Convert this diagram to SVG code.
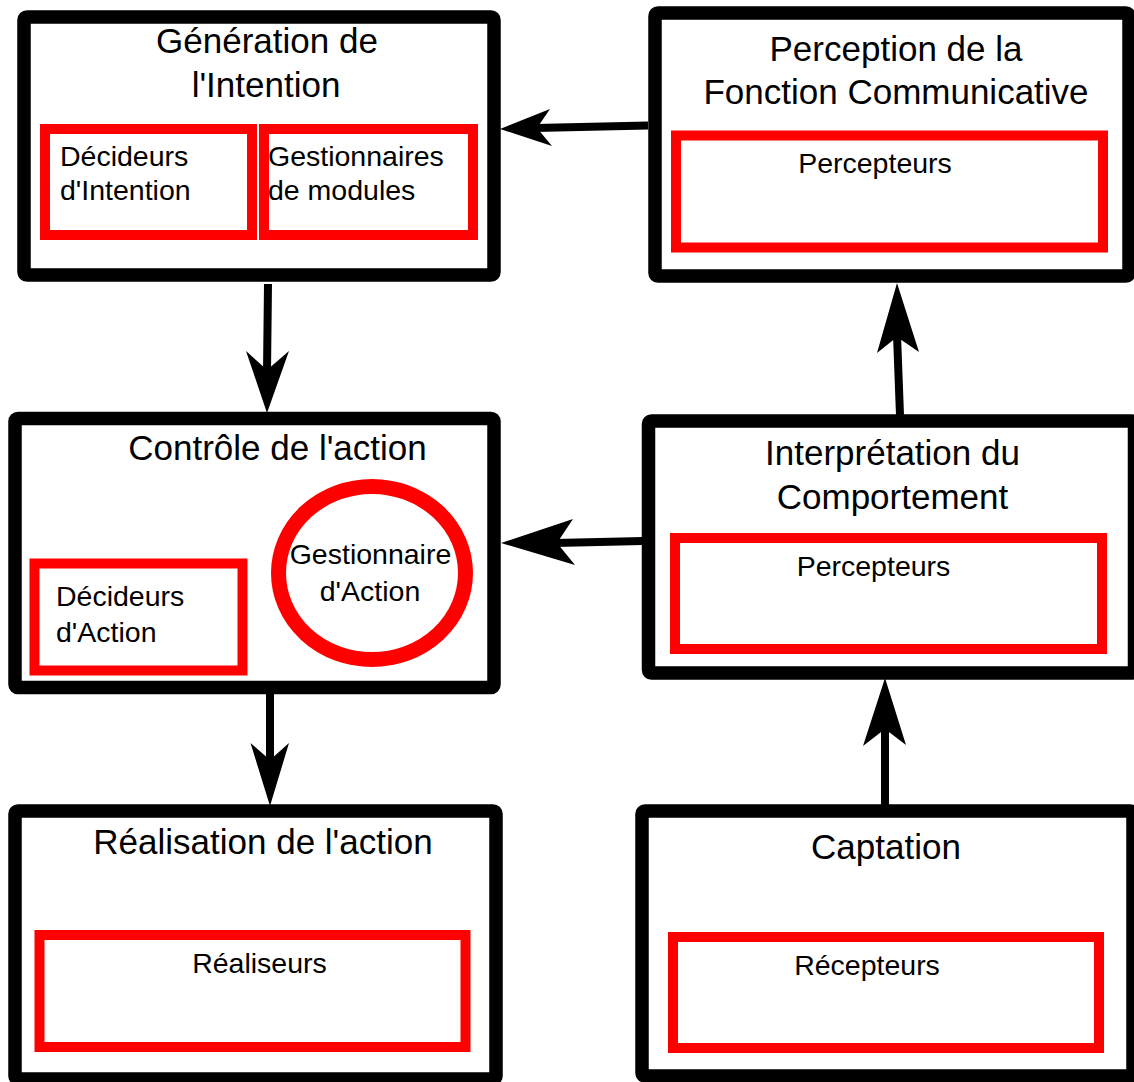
<svg xmlns="http://www.w3.org/2000/svg" width="1134" height="1082" viewBox="0 0 1134 1082">
<style>
.box{fill:#fff;stroke:#000;stroke-width:13.5;stroke-linejoin:round}
.red{fill:none;stroke:#ff0000;stroke-width:10}
.t{font-family:"Liberation Sans",Arial,sans-serif;font-size:35px;fill:#000}
.s{font-family:"Liberation Sans",Arial,sans-serif;font-size:28.5px;fill:#000}
.m{text-anchor:middle}
.ln{stroke:#000;stroke-width:8;fill:none}
.hd{fill:#000;stroke:none}
</style>
<rect width="1134" height="1082" fill="#fff"/>
<g id="generation">
<rect class="box" x="24" y="17" width="470" height="258" rx="3"/>
<text class="t m" x="267" y="53">Génération de</text>
<text class="t m" x="266" y="97">l'Intention</text>
<rect class="red" x="45" y="129" width="207" height="106"/>
<rect class="red" x="264" y="129" width="209" height="106"/>
<text class="s" x="60" y="166">Décideurs</text>
<text class="s" x="60" y="200">d'Intention</text>
<text class="s" x="268" y="166">Gestionnaires</text>
<text class="s" x="268" y="200">de modules</text>
</g>
<g id="perception">
<rect class="box" x="655" y="13" width="474" height="263" rx="3"/>
<text class="t m" x="896" y="61">Perception de la</text>
<text class="t m" x="896" y="104">Fonction Communicative</text>
<rect class="red" x="676" y="135.5" width="427" height="112"/>
<text class="s m" x="875" y="173">Percepteurs</text>
</g>
<g id="controle">
<rect class="box" x="15" y="418.5" width="479" height="269" rx="3"/>
<text class="t m" x="277.5" y="460">Contrôle de l'action</text>
<rect class="red" x="34.5" y="563.5" width="208" height="107"/>
<text class="s" x="56" y="606">Décideurs</text>
<text class="s" x="56" y="642">d'Action</text>
<ellipse cx="372" cy="573" rx="93.5" ry="86.5" fill="none" stroke="#ff0000" stroke-width="15"/>
<text class="s m" x="370.5" y="564">Gestionnaire</text>
<text class="s m" x="370" y="601">d'Action</text>
</g>
<g id="interpretation">
<rect class="box" x="648.5" y="421" width="486" height="252" rx="3"/>
<text class="t m" x="892.5" y="465">Interprétation du</text>
<text class="t m" x="892.5" y="509">Comportement</text>
<rect class="red" x="675" y="538" width="427" height="111"/>
<text class="s m" x="873.5" y="576">Percepteurs</text>
</g>
<g id="realisation">
<rect class="box" x="15" y="811" width="481" height="268" rx="3"/>
<text class="t m" x="263" y="854">Réalisation de l'action</text>
<rect class="red" x="39.5" y="935" width="426" height="112"/>
<text class="s m" x="259.5" y="973">Réaliseurs</text>
</g>
<g id="captation">
<rect class="box" x="642" y="811" width="491" height="265" rx="3"/>
<text class="t m" x="886" y="859">Captation</text>
<rect class="red" x="673" y="937" width="426" height="111"/>
<text class="s m" x="867" y="975">Récepteurs</text>
</g>
<g id="connectors">
<line class="ln" x1="648" y1="125.5" x2="535" y2="128" stroke-width="7"/>
<polygon class="hd" points="500,129 550,109 537,128 552,146"/>
<line class="ln" x1="268" y1="284" x2="267" y2="372"/>
<polygon class="hd" points="267,413 246,351 267,370 289,351"/>
<line class="ln" x1="643" y1="541" x2="555" y2="543"/>
<polygon class="hd" points="501,543 573,519 557,543 575,565"/>
<line class="ln" x1="900" y1="415" x2="897" y2="335"/>
<polygon class="hd" points="897,283 919,352 897,337 877,353"/>
<line class="ln" x1="270" y1="694" x2="270" y2="762"/>
<polygon class="hd" points="270,806 250.5,743 270,760 289,743"/>
<line class="ln" x1="885" y1="805" x2="885" y2="727"/>
<polygon class="hd" points="885,678 906,745 885,729 863,746"/>
</g>
</svg>
